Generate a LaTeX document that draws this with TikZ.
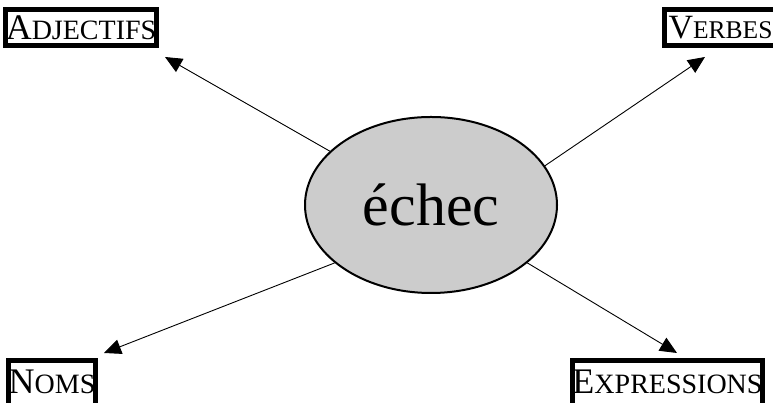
\documentclass[tikz,border=0pt]{standalone}
\usepackage{fontspec}
\setmainfont{Liberation Serif}
\usetikzlibrary{arrows.meta,shapes.geometric}
\newcommand\myscap[2]{{\fontsize{36}{36}\selectfont #1}{\fontsize{28}{28}\selectfont #2}}
\newcommand\myscapv[2]{{\fontsize{34}{34}\selectfont #1}{\fontsize{25.5}{25.5}\selectfont #2}}
\begin{document}
\begin{tikzpicture}[x=1pt,y=1pt,
  catbox/.style={draw=black,line width=5pt,inner sep=0pt,anchor=center,align=center},
  arr/.style={line width=0.9pt,-{Triangle[length=17pt,width=15pt]}}]
\useasboundingbox (0,0) rectangle (773,403);
\node[ellipse,draw=black,line width=2pt,fill=black!20,minimum width=252pt,minimum height=176pt,inner sep=0pt]
  (e) at (431,198) {\fontsize{60}{60}\selectfont échec};
\node[catbox,minimum width=143pt,minimum height=36pt] (adj) at (81,375.5) {\myscap{A}{DJECTIFS}};
\node[catbox,minimum width=112pt,minimum height=36pt] (verb) at (720.5,375.5) {\myscapv{V}{ERBES}};
\node[catbox,minimum width=85pt,minimum height=47pt] (nom) at (52,19) {\raisebox{4pt}{\myscap{N}{OMS}}};
\node[catbox,minimum width=184pt,minimum height=47pt] (expr) at (667.5,19) {\raisebox{4pt}{\myscap{E}{XPRESSIONS}}};
\coordinate (tA) at (165,346);
\coordinate (tV) at (705,346);
\coordinate (tN) at (104,50);
\coordinate (tE) at (677,50);
\draw[arr] (e.152.8) -- (tA);
\draw[arr] (e.19.3) -- (tV);
\draw[arr] (e.211.4) -- (tN);
\draw[arr] (e.329.7) -- (tE);
\end{tikzpicture}
\end{document}
